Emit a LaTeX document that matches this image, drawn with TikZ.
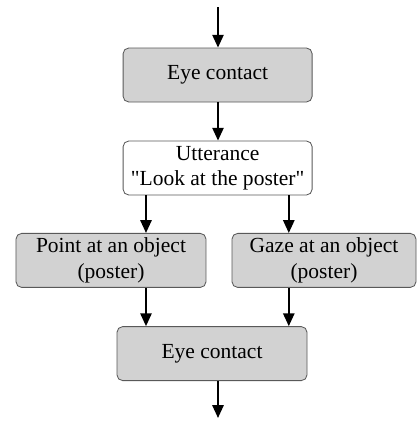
\documentclass[tikz,border=0pt]{standalone}
\usepackage{fontspec}
\setmainfont{Liberation Serif}
\usetikzlibrary{arrows.meta}
\begin{document}
\begin{tikzpicture}[font=\fontsize{15.3}{18}\selectfont]
    \tikzstyle{step box}=[draw=gray!70!black,line width=0.6pt,rounded corners=4pt,align=center,inner sep=0pt,minimum height=1.35cm];
    \tikzstyle{act}=[step box,fill=gray!35];
    \tikzstyle{say}=[step box,fill=white];
    \tikzstyle{flow}=[-{Triangle[length=3.2mm,width=2.8mm]},line width=1.4pt];
    \useasboundingbox (0,0) rectangle (10.425,-10.525);
    \node[act,minimum width=4.725cm] at (5.44,-1.875) (eye1) {Eye contact};
    \node[say,minimum width=4.725cm] at (5.44,-4.2)   (utt)  {Utterance\\\textquotedbl Look at the poster\textquotedbl};
    \node[act,minimum width=4.75cm]  at (2.775,-6.51) (pt)   {Point at an object\\(poster)};
    \node[act,minimum width=4.6cm]   at (8.1,-6.51)   (gz)   {Gaze at an object\\(poster)};
    \node[act,minimum width=4.75cm]  at (5.3,-8.84)   (eye2) {Eye contact};
    \coordinate (in) at (5.45,-0.175);
    \coordinate (out) at (5.45,-10.45);
    \coordinate (xl) at (3.65,0);
    \coordinate (xr) at (7.22,0);
    \draw[flow] (in) -- (in |- eye1.north);
    \draw[flow] (eye1.south -| in) -- (utt.north -| in);
    \draw[flow] (utt.south -| xl) -- (pt.north -| xl);
    \draw[flow] (utt.south -| xr) -- (gz.north -| xr);
    \draw[flow] (pt.south -| xl) -- (eye2.north -| xl);
    \draw[flow] (gz.south -| xr) -- (eye2.north -| xr);
    \draw[flow] (eye2.south -| out) -- (out);
\end{tikzpicture}
\end{document}
